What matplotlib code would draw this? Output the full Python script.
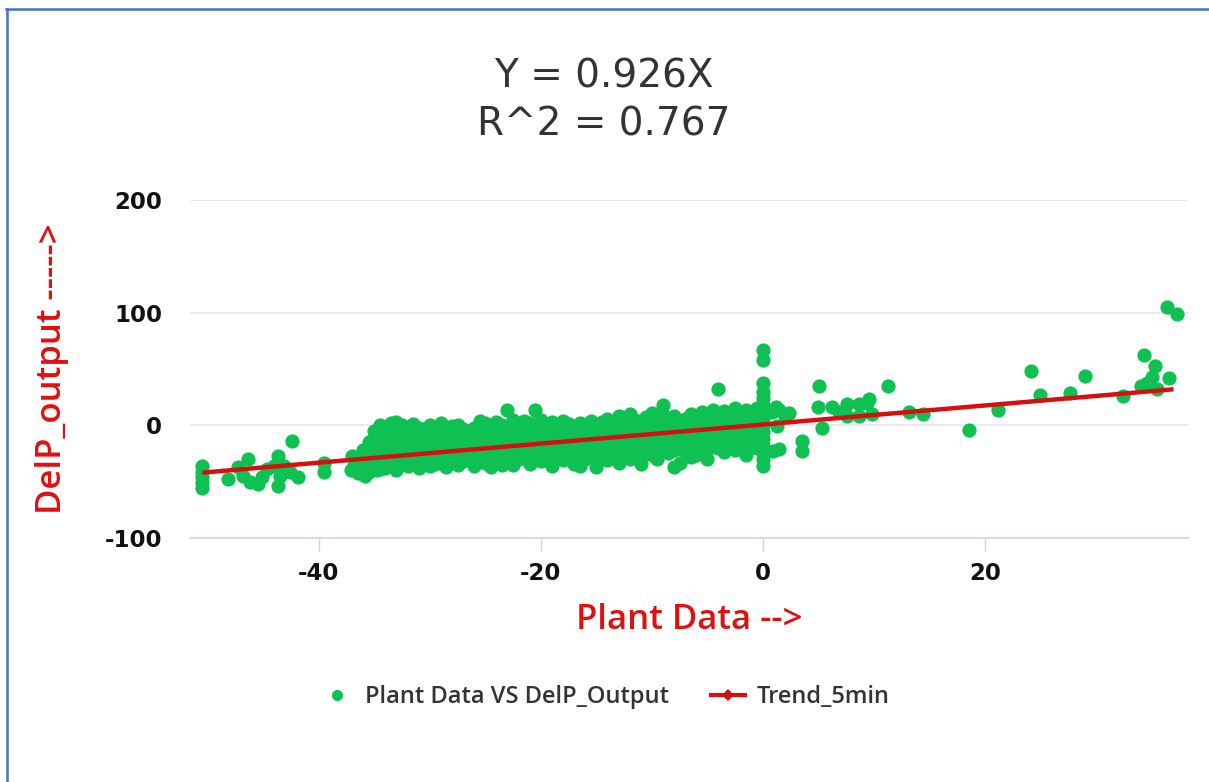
import matplotlib
matplotlib.use("Agg")
import matplotlib.pyplot as plt
from matplotlib.lines import Line2D

plt.rcParams["axes.unicode_minus"] = False

# ---------------- data ----------------
left_x = [-50.5, -50.5, -50.5, -50.5, -50.5, -48.2, -47.3, -46.4, -46.2, -45.5, -45.1, -46.8,
          -44.7, -43.7, -43.7, -43.5, -43.1, -42.6, -42.4, -41.9, -44.0, -39.5, -39.5,
          -37.0, -36.8, -36.5, -36.2, -35.8, -35.4, -34.8, -37.1, -36.0, -35.2]
left_y = [-36, -41, -46, -51, -56, -48, -37, -30, -50, -52, -46, -45,
          -39, -27, -54, -45, -36, -41, -14, -46, -36, -33, -41,
          -27, -35, -42, -31, -45, -24, -40, -40, -37, -33]

band_x = ([-36.0] * 5 + [-35.5] * 4 + [-35.0] * 5 + [-34.5] * 5 + [-34.0] * 5 + [-33.5] * 5 +
          [-33.0] * 5 + [-32.5] * 4 + [-32.0] * 5 + [-31.5] * 4 + [-31.0] * 5 + [-30.5] * 4 +
          [-30.0] * 5 + [-29.5] * 4 + [-29.0] * 4 + [-28.5] * 5 + [-28.0] * 4 + [-27.5] * 5 +
          [-27.0] * 4 + [-26.5] * 3 + [-26.0] * 5 + [-25.5] * 4 + [-25.0] * 5 + [-24.5] * 4 +
          [-24.0] * 5 + [-23.5] * 4 + [-23.0] * 5 + [-22.5] * 5 + [-22.0] * 4 + [-21.5] * 4 +
          [-21.0] * 5 + [-20.5] * 4 + [-20.0] * 5 + [-19.5] * 4 + [-19.0] * 5 + [-18.5] * 3 +
          [-18.0] * 5 + [-17.5] * 4 + [-17.0] * 4 + [-16.5] * 5 + [-16.0] * 4 + [-15.5] * 4 +
          [-15.0] * 5 + [-14.5] * 3 + [-14.0] * 5 + [-13.5] * 4 + [-13.0] * 5 + [-12.5] * 4 +
          [-12.0] * 5 + [-11.5] * 4 + [-11.0] * 5 + [-10.5] * 4 + [-10.0] * 5 + [-9.5] * 5 +
          [-9.0] * 5 + [-8.5] * 4 + [-8.0] * 5 + [-7.5] * 4 + [-7.0] * 4 + [-6.5] * 5 +
          [-6.0] * 4 + [-5.5] * 4 + [-5.0] * 5 + [-4.5] * 4 + [-4.0] * 5 + [-3.5] * 5 +
          [-3.0] * 4 + [-2.5] * 5 + [-2.0] * 4 + [-1.5] * 5 + [-1.0] * 4 + [-0.5] * 5)
band_y = [-38, -30, -22, -40, -34,
          -25, -15, -33, -41,
          -12, -20, -28, -36, -5,
          -8, -18, -26, -39, 0,
          -3, -14, -22, -31, -38,
          2, -6, -16, -27, -35,
          3, -9, -20, -30, -40,
          0, -12, -24, -33,
          -4, -15, -26, -36, -8,
          1, -10, -19, -29,
          -6, -17, -27, -38, -2,
          -3, -13, -22, -32,
          0, -9, -20, -30, -36,
          -5, -15, -25, -34,
          2, -8, -18, -28,
          -4, -12, -22, -31, -37,
          -1, -10, -20, -29,
          0, -7, -16, -26, -35,
          -3, -13, -23, -32,
          -6, -18, -27,
          -2, -11, -21, -30, -36,
          4, -8, -17, -28,
          2, -5, -14, -24, -33,
          -1, -10, -20, -37,
          3, -7, -16, -26, -31,
          0, -12, -22, -35,
          14, -3, -9, -19, -29,
          5, -6, -15, -25, -35,
          1, -11, -21, -30,
          4, -4, -14, -24,
          2, -8, -18, -28, -34,
          14, -2, -12, -22,
          5, -5, -15, -25, -32,
          0, -10, -20, -29,
          3, -7, -17, -27, -36,
          -2, -13, -23,
          4, -5, -14, -24, -31,
          1, -9, -19, -28,
          -3, -12, -22, -34,
          2, -6, -16, -26, -36,
          0, -10, -20, -30,
          4, -4, -14, -24,
          -1, -8, -18, -28, -37,
          3, -12, -22,
          6, -5, -15, -25, -31,
          1, -9, -19, -28,
          8, -3, -13, -23, -33,
          4, -7, -17, -26,
          10, 0, -11, -21, -30,
          5, -4, -15, -24,
          2, -8, -18, -28, -34,
          7, -2, -12, -22,
          11, 3, -6, -16, -26,
          6, -3, -13, -23, -30,
          18, 9, 0, -10, -20,
          4, -6, -15, -25,
          8, -2, -12, -22, -37,
          2, -8, -18, -33,
          6, -4, -14, -24,
          10, 1, -9, -19, -28,
          5, -5, -15, -26,
          12, 3, -7, -17,
          8, -2, -12, -22, -30,
          14, 4, -6, -16,
          32, 10, 0, -10, -20,
          13, 5, -4, -14, -24,
          9, 1, -8, -18,
          15, 6, -3, -12, -22,
          11, 2, -7, -16,
          14, 5, -4, -14, -26,
          12, 3, -6, -18,
          15, 8, -2, -10, -20]

zero_x = [0.0] * 15
zero_y = [67, 58, 38, 30, 24, 18, 12, 6, 0, -6, -12, -18, -24, -30, -36]

right_x = [0.8, 1.2, 1.5, 2.0, 2.4, 1.3, 1.5, 0.9, 3.5, 3.5, 5.1, 5.0, 6.2, 5.3,
           7.6, 6.9, 7.6, 8.7, 9.4, 9.6, 9.8, 8.7, 11.3, 13.2, 14.4, 18.6, 21.2,
           24.2, 25.0, 27.7, 29.0, 32.4, 34.3, 35.3, 35.1, 34.1, 34.6, 35.5, 36.6,
           36.4, 37.3]
right_y = [12, 16, 14, 8, 11, -1, -21, -23, -14, -23, 35, 16, 16, -2,
           19, 12, 8, 8, 20, 23, 10, 19, 35, 12, 10, -4, 14,
           48, 27, 29, 44, 26, 62, 53, 43, 35, 38, 32, 42,
           105, 99]

scatter_x = left_x + band_x + zero_x + right_x
scatter_y = left_y + band_y + zero_y + right_y

trend_x = [-50.5, 37.0]
trend_y = [-42.0, 32.0]

x_ticks = [-40, -20, 0, 20]
y_ticks = [-100, 0, 100, 200]

title_lines = ["Y = 0.926X", "R^2 = 0.767"]
series_names = ["Plant Data VS DelP_Output", "Trend_5min"]

# ---------------- styling ----------------
green = "#0fc152"
red = "#d61010"
label_red = "#e0100f"
os_family = ["Open Sans", "DejaVu Sans"]

fig = plt.figure(figsize=(12.09, 7.82), dpi=100)
fig.patch.set_facecolor("white")
ax = fig.add_axes([190 / 1209, 1 - 538 / 782, 998 / 1209, 338 / 782])

ax.scatter(scatter_x, scatter_y, s=105, color=green, linewidths=0, zorder=3)
ax.plot(trend_x, trend_y, color=red, lw=3.2, zorder=4, solid_capstyle="butt")

ax.set_xlim(-51.6, 38.3)
ax.set_ylim(-100, 200)
ax.set_xticks(x_ticks)
ax.set_yticks(y_ticks)

for s in ["top", "right", "left"]:
    ax.spines[s].set_visible(False)
ax.spines["bottom"].set_color("#ccd6eb")
ax.spines["bottom"].set_linewidth(1.2)
ax.grid(axis="y", color="#e6e6e6", lw=1.2, zorder=0)
ax.set_axisbelow(True)
ax.tick_params(axis="y", length=0, pad=20, labelcolor="#111111")
ax.tick_params(axis="x", length=9, width=1, color="#ccd6eb", pad=8, labelcolor="#111111")
for lab in ax.get_xticklabels() + ax.get_yticklabels():
    lab.set_fontfamily("DejaVu Sans")
    lab.set_fontweight("bold")
    lab.set_fontsize(16.5)

ax.set_xlabel("Plant Data -->", color=label_red, fontsize=25, family=os_family,
              weight="semibold")
ax.xaxis.set_label_coords(0.5, -0.243)
ax.xaxis.label.set_va("center")
ax.set_ylabel("DelP_output ----->", color=label_red, fontsize=25, family=os_family,
              weight="semibold")
ax.yaxis.set_label_coords(-0.138, 0.5)
ax.yaxis.label.set_va("center")

fig.text(0.4996, 1 - 77 / 782, title_lines[0], ha="center", va="center",
         fontsize=28, color="#333333")
fig.text(0.4996, 1 - 125 / 782, title_lines[1], ha="center", va="center",
         fontsize=28, color="#333333")

handles = [
    Line2D([], [], ls="none", marker="o", markersize=8, color=green, markeredgewidth=0),
    Line2D([], [], color=red, lw=3, marker="D", markersize=6, markeredgewidth=0),
]
leg = fig.legend(handles, series_names, loc="center", bbox_to_anchor=(0.5, 1 - 697 / 782),
                 ncol=2, frameon=False, handlelength=1.45, columnspacing=1.8,
                 handletextpad=0.47, labelcolor="#333333",
                 prop={"family": os_family, "weight": "semibold", "size": 17})

# blue frame lines (top and left)
fig.add_artist(Line2D([6 / 1209, 1.0], [1 - 9 / 782, 1 - 9 / 782], color="#4472c4",
                      lw=1.8, transform=fig.transFigure))
fig.add_artist(Line2D([7 / 1209, 7 / 1209], [0.0, 1 - 9 / 782], color="#4472c4",
                      lw=1.8, transform=fig.transFigure))

fig.savefig("out.png", dpi=100, facecolor="white")
